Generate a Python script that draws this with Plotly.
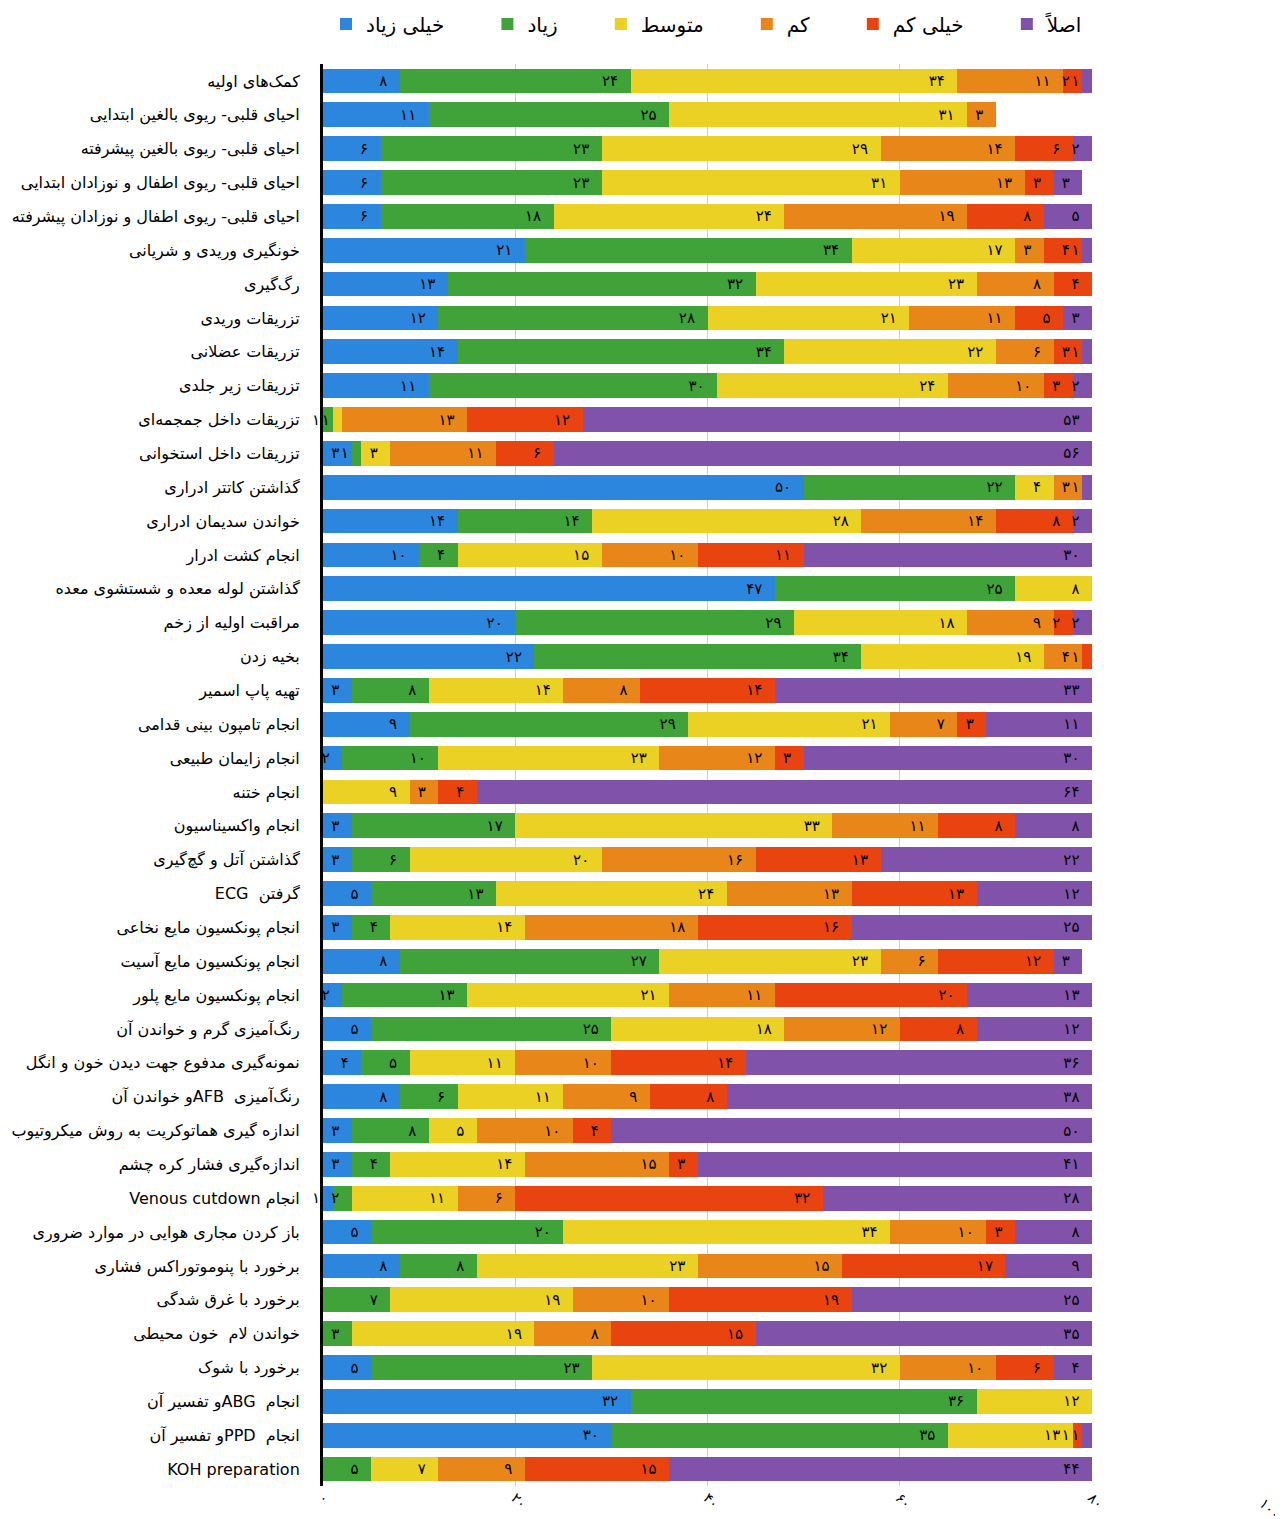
import plotly.graph_objects as go

RLE, PDF = "\u202B", "\u202C"

categories = [
    "کمک‌های اولیه",
    "احیای قلبی- ریوی بالغین ابتدایی",
    "احیای قلبی- ریوی بالغین پیشرفته",
    "احیای قلبی- ریوی اطفال و نوزادان ابتدایی",
    "احیای قلبی- ریوی اطفال و نوزادان پیشرفته",
    "خونگیری وریدی و شریانی",
    "رگ‌گیری",
    "تزریقات وریدی",
    "تزریقات عضلانی",
    "تزریقات زیر جلدی",
    "تزریقات داخل جمجمه‌ای",
    "تزریقات داخل استخوانی",
    "گذاشتن کاتتر ادراری",
    "خواندن سدیمان ادراری",
    "انجام کشت ادرار",
    "گذاشتن لوله معده و شستشوی معده",
    "مراقبت اولیه از زخم",
    "بخیه زدن",
    "تهیه پاپ اسمیر",
    "انجام تامپون بینی قدامی",
    "انجام زایمان طبیعی",
    "انجام ختنه",
    "انجام واکسیناسیون",
    "گذاشتن آتل و گچ‌گیری",
    RLE + "گرفتن  ECG" + PDF,
    "انجام پونکسیون مایع نخاعی",
    "انجام پونکسیون مایع آسیت",
    "انجام پونکسیون مایع پلور",
    "رنگ‌آمیزی گرم و خواندن آن",
    "نمونه‌گیری مدفوع جهت دیدن خون و انگل",
    RLE + "رنگ‌آمیزی  AFBو خواندن آن" + PDF,
    "اندازه گیری هماتوکریت به روش میکروتیوب",
    "اندازه‌گیری فشار کره چشم",
    RLE + "انجام Venous cutdown" + PDF,
    "باز کردن مجاری هوایی در موارد ضروری",
    "برخورد با پنوموتوراکس فشاری",
    "برخورد با غرق شدگی",
    "خواندن لام  خون محیطی",
    "برخورد با شوک",
    RLE + "انجام  ABGو تفسیر آن" + PDF,
    RLE + "انجام  PPDو تفسیر آن" + PDF,
    "KOH preparation",
]

very_high = [8, 11, 6, 6, 6, 21, 13, 12, 14, 11, 0, 3, 50, 14, 10, 47, 20, 22, 3, 9, 2, 0,
             3, 3, 5, 3, 8, 2, 5, 4, 8, 3, 3, 1, 5, 8, 0, 0, 5, 32, 30, 0]
high = [24, 25, 23, 23, 18, 34, 32, 28, 34, 30, 1, 1, 22, 14, 4, 25, 29, 34, 8, 29, 10, 0,
        17, 6, 13, 4, 27, 13, 25, 5, 6, 8, 4, 2, 20, 8, 7, 3, 23, 36, 35, 5]
medium = [34, 31, 29, 31, 24, 17, 23, 21, 22, 24, 1, 3, 4, 28, 15, 8, 18, 19, 14, 21, 23, 9,
          33, 20, 24, 14, 23, 21, 18, 11, 11, 5, 14, 11, 34, 23, 19, 19, 32, 12, 13, 7]
low = [11, 3, 14, 13, 19, 3, 8, 11, 6, 10, 13, 11, 3, 14, 10, 0, 9, 4, 8, 7, 12, 3,
       11, 16, 13, 18, 6, 11, 12, 10, 9, 10, 15, 6, 10, 15, 10, 8, 10, 0, 0, 9]
very_low = [2, 0, 6, 3, 8, 4, 4, 5, 3, 3, 12, 6, 0, 8, 11, 0, 2, 1, 14, 3, 3, 4,
            8, 13, 13, 16, 12, 20, 8, 14, 8, 4, 3, 32, 3, 17, 19, 15, 6, 0, 1, 15]
never = [1, 0, 2, 3, 5, 1, 0, 3, 1, 2, 53, 56, 1, 2, 30, 0, 2, 0, 33, 11, 30, 64,
         8, 22, 12, 25, 3, 13, 12, 36, 38, 50, 41, 28, 8, 9, 25, 35, 4, 0, 1, 44]

series_names = ["خیلی زیاد", "زیاد", "متوسط", "کم", "خیلی کم", "اصلاً"]
series_values = [very_high, high, medium, low, very_low, never]
series_colors = ["#2c86dd", "#3fa33a", "#ecd125", "#e98619", "#e9440f", "#8152aa"]

tick_values = [0, 20, 40, 60, 80]
tick_labels = ["۰", "۲۰", "۴۰", "۶۰", "۸۰"]
extra_tick_value = 100
extra_tick_label = "۱۰۰"

x_max = 80
fa = str.maketrans("0123456789", "۰۱۲۳۴۵۶۷۸۹")
FONT = "DejaVu Sans"
GAP = "\u00a0" * 6

fig = go.Figure()
for i, (name, vals, color) in enumerate(zip(series_names, series_values, series_colors)):
    fig.add_trace(go.Bar(
        y=categories, x=vals,
        name=name + (GAP if i < len(series_names) - 1 else ""),
        orientation="h",
        marker=dict(color=color, line=dict(width=0)),
        text=[(str(v).translate(fa) + "\u00a0\u00a0") if v else "" for v in vals],
        textposition="inside", insidetextanchor="end", textangle=0,
        insidetextfont=dict(color="black", size=15, family=FONT),
        cliponaxis=False,
    ))

fig.add_annotation(
    x=extra_tick_value / x_max, xref="paper", y=0, yref="paper",
    text=extra_tick_label, showarrow=False, textangle=45,
    xanchor="center", yanchor="top", yshift=-6, xshift=-14,
    font=dict(size=14, family=FONT, color="black"),
)

fig.update_layout(
    width=1283, height=1519,
    barmode="stack", bargap=0.27,
    margin=dict(l=315, r=199, t=56, b=41, autoexpand=False),
    plot_bgcolor="white", paper_bgcolor="white",
    font=dict(family=FONT, color="black"),
    uniformtext=dict(minsize=15, mode="show"),
    legend=dict(
        orientation="h", xref="container", yref="container",
        x=(348 - 8 - 22) / 1283, y=1 - 16 / 1519, xanchor="left", yanchor="middle",
        font=dict(size=20, family=FONT), traceorder="normal",
        itemwidth=30,
    ),
    xaxis=dict(
        range=[0, x_max], tickvals=tick_values, ticktext=tick_labels,
        tickangle=45, showgrid=True, gridcolor="#cfcfcf", gridwidth=1,
        zeroline=False, showline=False, ticks="", automargin=False,
        tickfont=dict(size=14, family=FONT),
    ),
    yaxis=dict(
        autorange="reversed", showline=True, linecolor="black", linewidth=3,
        ticks="", ticklabelstandoff=17, tickfont=dict(size=16, family=FONT),
        showgrid=False, automargin=False,
    ),
)

fig.write_html("out.html")
